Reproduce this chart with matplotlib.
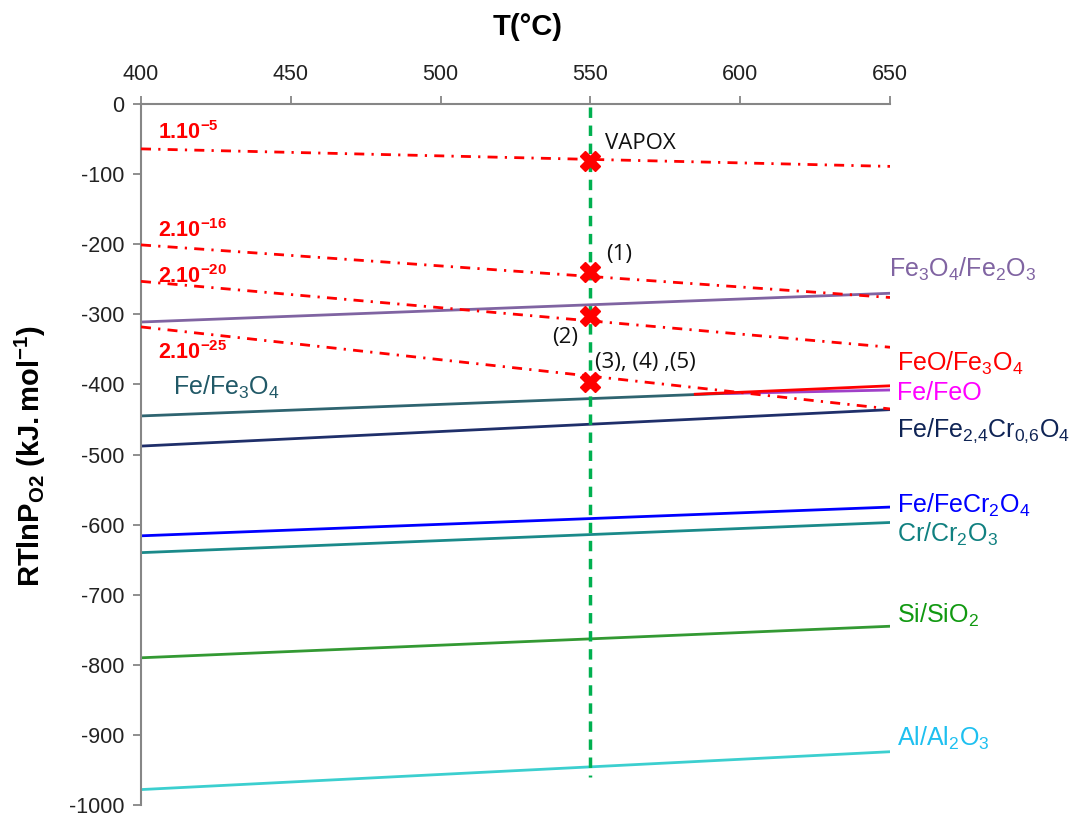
import matplotlib
matplotlib.use("Agg")
import matplotlib.pyplot as plt

plt.rcParams['font.family'] = ['Liberation Sans', 'DejaVu Sans']
plt.rcParams['mathtext.fontset'] = 'custom'
plt.rcParams['mathtext.rm'] = 'Liberation Sans'
plt.rcParams['mathtext.it'] = 'Liberation Sans'
plt.rcParams['mathtext.bf'] = 'Liberation Sans:bold'
plt.rcParams['mathtext.default'] = 'regular'
plt.rcParams['axes.unicode_minus'] = False

# ---- data ----
x_ticks = [400, 450, 500, 550, 600, 650]
y_ticks = [0, -100, -200, -300, -400, -500, -600, -700, -800, -900, -1000]

# iso-pO2 lines (dash-dot), values at 400 and 650 C
po2_labels = ['1.10^{-5}', '2.10^{-16}', '2.10^{-20}', '2.10^{-25}']
po2_T = [400, 650]
po2_1e5 = [-64, -89]
po2_2e16 = [-201, -276]
po2_2e20 = [-253, -347]
po2_2e25 = [-318, -435]

# equilibrium lines
fe3o4_fe2o3_T = [400, 650]; fe3o4_fe2o3 = [-311, -270]
feo_fe3o4_T = [585, 650]; feo_fe3o4 = [-414, -402]
fe_feo_T = [595, 650]; fe_feo = [-413, -408]
fe_fe3o4_T = [400, 600]; fe_fe3o4 = [-445, -412]
fe_spinel_T = [400, 650]; fe_spinel = [-488, -436]
fe_fecr2o4_T = [400, 650]; fe_fecr2o4 = [-616, -575]
cr_cr2o3_T = [400, 650]; cr_cr2o3 = [-640, -597]
si_sio2_T = [400, 650]; si_sio2 = [-790, -745]
al_al2o3_T = [400, 650]; al_al2o3 = [-978, -924]

# experimental points at 550 C
pts_T = [550, 550, 550, 550]
pts_val = [-81, -240, -302, -397]
pts_labels = ['VAPOX', '(1)', '(2)', '(3), (4) ,(5)']
vline_T = 550
vline_range = [-4, -960]

fig = plt.figure(figsize=(10.79, 8.18), dpi=100)
ax = fig.add_axes([141/1079, 1-805/818, (890-141)/1079, (805-104)/818])
ax.set_xlim(400, 650)
ax.set_ylim(-1000, 0)

dd = (0, (3.6, 2.6, 0.8, 2.6))
for v in [po2_1e5, po2_2e16, po2_2e20, po2_2e25]:
    ax.plot(po2_T, v, color='#FF0000', lw=2.0, linestyle=dd, zorder=3)

lw = 2.0
ax.plot(fe3o4_fe2o3_T, fe3o4_fe2o3, color='#8064A2', lw=lw, zorder=2)
ax.plot(fe_fe3o4_T, fe_fe3o4, color='#2E6470', lw=lw, zorder=2)
ax.plot(fe_feo_T, fe_feo, color='#A040C8', lw=lw, zorder=2)
ax.plot(feo_fe3o4_T, feo_fe3o4, color='#FF0000', lw=lw, zorder=2)
ax.plot(fe_spinel_T, fe_spinel, color='#1F2F6A', lw=lw, zorder=2)
ax.plot(fe_fecr2o4_T, fe_fecr2o4, color='#0000FF', lw=lw, zorder=2)
ax.plot(cr_cr2o3_T, cr_cr2o3, color='#1A8A8A', lw=lw, zorder=2)
ax.plot(si_sio2_T, si_sio2, color='#339933', lw=lw, zorder=2)
ax.plot(al_al2o3_T, al_al2o3, color='#3CCFCF', lw=lw, zorder=2)

ax.plot([vline_T, vline_T], vline_range, color='#00B050', lw=2.5,
        linestyle=(0, (3, 2.2)), zorder=4)
ax.plot(pts_T, pts_val, linestyle='none', marker='X', markersize=15,
        color='#FF0000', markeredgecolor='#FF0000', zorder=5)

# spines / ticks
for s in ['right', 'bottom']:
    ax.spines[s].set_visible(False)
for s in ['top', 'left']:
    ax.spines[s].set_color('#868686')
    ax.spines[s].set_linewidth(1.5)
ax.xaxis.tick_top()
ax.set_xticks(x_ticks)
ax.set_yticks(y_ticks)
ax.tick_params(axis='both', direction='out', length=6, width=1.3,
               color='#868686', labelsize=15.5, labelcolor='#222222')
ax.tick_params(axis='x', pad=8)
ax.tick_params(axis='y', pad=6)

fig.text(528/1079, 1-27/818, 'T(°C)', ha='center', va='center',
         fontsize=21, fontweight='bold')
fig.text(30/1079, 1-456/818, r'$\mathbf{RTlnP_{O2}\ (kJ.mol^{-1})}$',
         rotation=90, ha='center', va='center', fontsize=21)

# pO2 labels
red_lab_pos = [(405.7, -50), (405.7, -190), (405.7, -255), (405.7, -364)]
for lab, (xx, yy) in zip(po2_labels, red_lab_pos):
    ax.text(xx, yy, r'$\mathbf{' + lab + '}$', color='#FF0000', fontsize=15.5,
            ha='left', va='baseline')

# point annotations
ann_pos = [(555.0, -64), (555.2, -222), (537.2, -341), (551.5, -376)]
for lab, (xx, yy) in zip(pts_labels, ann_pos):
    ax.text(xx, yy, lab, color='#111111', fontsize=16, family='Open Sans',
            ha='left', va='baseline')

# line labels
line_labels = [
    ('Fe$_3$O$_4$/Fe$_2$O$_3$', 649.7, -247, '#8064A2'),
    ('FeO/Fe$_3$O$_4$', 652.3, -381, '#FF0000'),
    ('Fe/FeO', 652.3, -422, '#FF00FF'),
    ('Fe/Fe$_{2{,}4}$Cr$_{0{,}6}$O$_4$', 652.3, -475, '#0F2455'),
    ('Fe/FeCr$_2$O$_4$', 652.3, -583, '#0000FF'),
    ('Cr/Cr$_2$O$_3$', 652.3, -624, '#108080'),
    ('Si/SiO$_2$', 652.3, -740, '#119911'),
    ('Al/Al$_2$O$_3$', 652.3, -915, '#1EC0F0'),
    ('Fe/Fe$_3$O$_4$', 410.7, -415, '#215967'),
]
for lab, xx, yy, c in line_labels:
    ax.text(xx, yy, lab, color=c, fontsize=18, ha='left', va='baseline',
            clip_on=False)

fig.savefig('out.png', dpi=100)
